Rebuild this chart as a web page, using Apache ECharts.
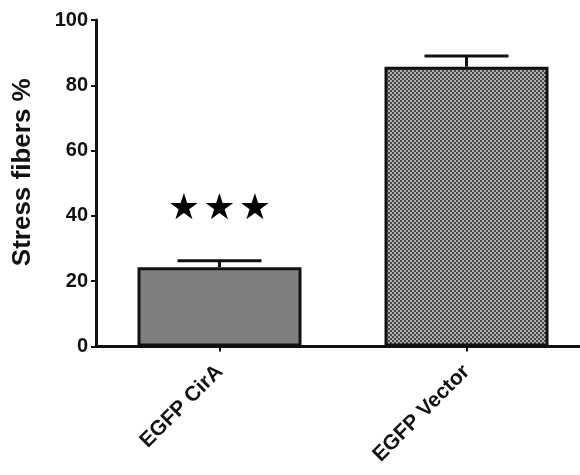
<!DOCTYPE html>
<html>
<head>
<meta charset="utf-8">
<script src="https://cdn.jsdelivr.net/npm/echarts@6/dist/echarts.min.js"></script>
<style>
  html, body { margin: 0; padding: 0; background: #fff; }
  #chart { width: 580px; height: 475px; }
</style>
</head>
<body>
<div id="chart"></div>
<script>
// Stress fiber percentages per construct, with upper SEM
const categories = ['EGFP CirA', 'EGFP Vector'];
const means = [24.3, 85.7];
const errors = [2.0, 3.3];
const yTicks = [0, 20, 40, 60, 80, 100];
const significance = [3, 0];      // number of stars per bar
const starLevel = [41.8, null];   // height at which the stars sit

// fine checkerboard fill for the vector bar
function checkerPattern() {
  const c = document.createElement('canvas');
  c.width = 4; c.height = 4;
  const g = c.getContext('2d');
  g.fillStyle = '#b0b0b0';
  g.fillRect(0, 0, 4, 4);
  g.fillStyle = '#474747';
  g.fillRect(0, 0, 2, 2);
  g.fillRect(2, 2, 2, 2);
  return c;
}

const chart = echarts.init(document.getElementById('chart'));
const fills = ['#7f7f7f', { image: checkerPattern(), repeat: 'repeat' }];

const font = 'Liberation Sans, Arial, sans-serif';

chart.setOption({
  animation: false,
  grid: {
    left: 96, top: 20, right: -10, bottom: 128.5,
    containLabel: false, outerBoundsMode: 'none'
  },
  xAxis: {
    type: 'category',
    data: categories,
    axisLine: { lineStyle: { color: '#111', width: 3 } },
    axisTick: { show: true, alignWithLabel: true, length: 5, lineStyle: { color: '#111', width: 2 } },
    axisLabel: { rotate: 45, color: '#111', fontWeight: 'bold', fontSize: 21, fontFamily: font, margin: 22 }
  },
  yAxis: {
    type: 'value',
    min: 0, max: 100, interval: 20,
    name: 'Stress fibers %',
    nameLocation: 'middle',
    nameGap: 60,
    nameRotate: 90,
    nameTextStyle: {
      color: '#111', fontWeight: 'bold', fontSize: 26, fontFamily: font,
      padding: [0, 0, 0, 22]
    },
    axisLine: { show: true, lineStyle: { color: '#111', width: 3 } },
    axisTick: { show: true, length: 5, lineStyle: { color: '#111', width: 2 } },
    axisLabel: {
      color: '#111', fontWeight: 'bold', fontSize: 20, fontFamily: font, margin: 8,
      formatter: v => (yTicks.indexOf(v) >= 0 ? String(v) : '')
    },
    splitLine: { show: false }
  },
  series: [
    {
      type: 'bar',
      barWidth: 164,
      data: means.map((v, i) => ({
        value: v,
        itemStyle: { color: fills[i], borderColor: '#111', borderWidth: 3 }
      })),
      z: 2
    },
    {
      // upper error bars: stem from bar top plus horizontal cap
      type: 'custom',
      z: 3,
      data: means.map((m, i) => [i, m, m + errors[i]]),
      renderItem: function (params, api) {
        const x = api.value(0);
        const base = api.coord([x, api.value(1)]);
        const top = api.coord([x, api.value(2)]);
        const half = 42;
        const style = { stroke: '#111', lineWidth: 3 };
        return {
          type: 'group',
          children: [
            { type: 'line', shape: { x1: top[0], y1: base[1], x2: top[0], y2: top[1] }, style },
            { type: 'line', shape: { x1: top[0] - half, y1: top[1], x2: top[0] + half, y2: top[1] }, style }
          ]
        };
      }
    },
    {
      // significance stars above the CirA bar
      type: 'custom',
      z: 4,
      data: starLevel.map((v, i) => [i, v]).filter(d => d[1] !== null),
      renderItem: function (params, api) {
        const idx = api.value(0);
        const p = api.coord([idx, api.value(1)]);
        const n = significance[idx];
        const step = 35.5;
        const children = [];
        for (let k = 0; k < n; k++) {
          children.push({
            type: 'text',
            style: {
              x: p[0] + (k - (n - 1) / 2) * step, y: p[1],
              text: '★',
              fill: '#000',
              font: 'bold 36px DejaVu Sans, sans-serif',
              align: 'center', verticalAlign: 'middle'
            }
          });
        }
        return { type: 'group', children };
      }
    }
  ]
});
</script>
</body>
</html>
